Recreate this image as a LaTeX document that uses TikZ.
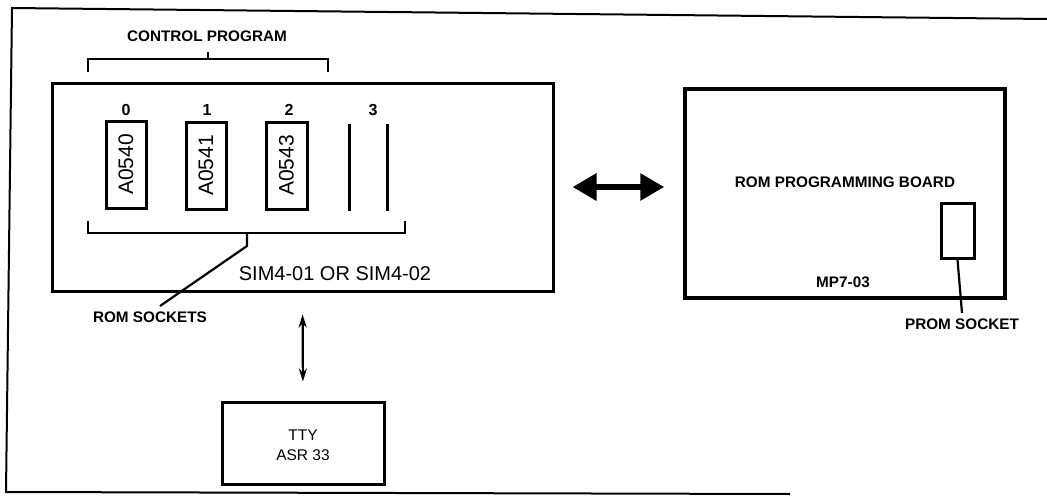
\documentclass[tikz,border=0pt]{standalone}
\usepackage{fontspec}
\setmainfont{Liberation Sans}
\usetikzlibrary{arrows.meta,calc}
\begin{document}
\begin{tikzpicture}[x=1pt,y=-1pt,
  board/.style={draw, line width=3pt, inner sep=0pt},
  chip/.style={draw, line width=3pt, minimum width=40pt, minimum height=87pt, inner sep=0pt},
  lbl/.style={font=\fontsize{15.3}{17}\selectfont\bfseries, inner sep=0pt},
  digit/.style={font=\fontsize{16}{18}\selectfont\bfseries, inner sep=0pt},
  chiplbl/.style={font=\fontsize{21}{23}\selectfont, inner sep=0pt, rotate=90},
  thin/.style={line width=2.2pt},
  bigarrow/.style={line width=6pt, {Triangle[length=24pt,width=26pt]}-{Triangle[length=24pt,width=26pt]}},
  smallarrow/.style={line width=2.2pt, {Stealth[length=13pt,width=8pt]}-{Stealth[length=13pt,width=8pt]}}
]
\useasboundingbox (0,0) rectangle (1047,498);
% outer frame
\draw[line width=2pt] (1047,19) -- (12,8) -- (6,492) -- (790,494);

% SIM board
\node[board, minimum width=501pt, minimum height=208pt] (sim) at (302.5,187) {};
\node[font=\fontsize{20}{22}\selectfont, inner sep=0pt] (simlbl) at (335,274) {SIM4-01 OR SIM4-02};

% ROM sockets with chips
\node[chip] (c0) at (126,164.5) {};
\node[chip] (c1) at (206,165.5) {};
\node[chip, minimum width=41pt] (c2) at (286.5,165.5) {};
\node[chiplbl] at (c0) {A0540};
\node[chiplbl] at (c1) {A0541};
\node[chiplbl] at (c2) {A0543};
\draw[line width=3pt] (349,124) -- (349,211);
\draw[line width=3pt] (387,124) -- (387,211);
\node[digit] (n0) at (126,110) {0};
\node[digit] (n1) at (207,110) {1};
\node[digit] (n2) at (289,110) {2};
\node[digit] (n3) at (373,110) {3};

% control program bracket
\node[lbl] (cp) at (207,36) {CONTROL PROGRAM};
\draw[thin] (88,72) -- (88,59) -- (328,59) -- (328,72);
\draw[thin] (208,59) -- (208,52);

% rom sockets bracket
\draw[thin] (88,221) -- (88,233) -- (405,233) -- (405,221);
\coordinate (rsa) at (247,246);
\coordinate (rsb) at (160,306);
\draw[thin] (247,233) -- (rsa) -- (rsb);
\node[lbl] (rs) at (150,317) {ROM SOCKETS};

% ROM programming board
\node[draw, line width=3.5pt, inner sep=0pt, minimum width=320pt, minimum height=209pt] (rom) at (845,193.5) {};
\node[font=\fontsize{15.3}{17}\selectfont\bfseries, inner sep=0pt] (romlbl) at (845,182) {ROM PROGRAMMING BOARD};
\node[lbl] (mp) at (843,282) {MP7-03};
\node[draw, line width=3pt, inner sep=0pt, minimum width=33pt, minimum height=55pt] (sock) at (957.5,230.5) {};
\coordinate (psend) at (962,313);
\draw[thin] (sock.south) -- (psend);
\node[lbl] (ps) at (962,324) {PROM SOCKET};

% TTY
\node[board, minimum width=162pt, minimum height=82pt] (tty) at (303,443) {};
\node[font=\fontsize{15.5}{17}\selectfont, inner sep=0pt] at (303,435) {TTY};
\node[font=\fontsize{15.5}{17}\selectfont, inner sep=0pt] at (303,455) {ASR 33};

% connectors
\draw[bigarrow, shorten <=18pt, shorten >=19pt] (sim.east) -- (sim.east -| rom.west);
\draw[smallarrow, shorten <=22pt, shorten >=19pt] (sim.south) -- (tty.north);
\end{tikzpicture}
\end{document}
